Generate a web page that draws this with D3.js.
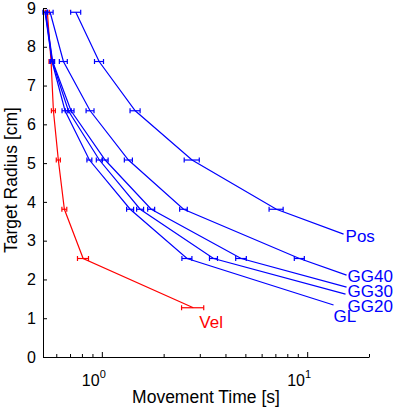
<!DOCTYPE html>
<html>
<head>
<meta charset="utf-8">
<script src="https://cdn.jsdelivr.net/npm/d3@7"></script>
<style>
  body { margin: 0; background: #fff; }
  svg text { font-family: "Liberation Sans", Arial, sans-serif; }
</style>
</head>
<body>
<div id="chart"></div>
<script>
var width = 397;
var height = 412;

// target radius levels [cm]
var radius = [8.89, 7.62, 6.35, 5.08, 3.81, 2.54, 1.27];

// movement times [s] (mean) and sd, one per radius level
var velMT = [0.543, 0.566, 0.581, 0.614, 0.657, 0.811, 2.79];
var velSD = [0.012, 0.013, 0.013, 0.014, 0.018, 0.05, 0.345];
var glMT = [0.529, 0.572, 0.662, 0.870, 1.374, 2.60];
var glSD = [0.012, 0.013, 0.022, 0.024, 0.054, 0.146];
var gg20MT = [0.531, 0.574, 0.687, 0.973, 1.537, 3.50];
var gg20SD = [0.012, 0.013, 0.023, 0.033, 0.06, 0.157];
var gg30MT = [0.533, 0.576, 0.708, 1.038, 1.740, 4.77];
var gg30SD = [0.012, 0.013, 0.024, 0.035, 0.068, 0.284];
var gg40MT = [0.560, 0.650, 0.877, 1.348, 2.50, 9.17];
var gg40SD = [0.019, 0.029, 0.039, 0.061, 0.107, 0.515];
var posMT = [0.747, 0.970, 1.454, 2.75, 7.08];
var posSD = [0.042, 0.049, 0.082, 0.232, 0.557];

// where each label's leader line ends (data units)
var labelNames = ["Pos", "GG40", "GG30", "GG20", "GL", "Vel"];
var labelMT = [15.04, 15.55, 15.55, 15.37, 13.44, 2.79];
var labelR = [3.17, 2.11, 1.80, 1.62, 1.34, 1.27];

var series = [
  {name: "Vel", mt: velMT, sd: velSD, color: "#ff0000"},
  {name: "GL", mt: glMT, sd: glSD, color: "#0000ff"},
  {name: "GG20", mt: gg20MT, sd: gg20SD, color: "#0000ff"},
  {name: "GG30", mt: gg30MT, sd: gg30SD, color: "#0000ff"},
  {name: "GG40", mt: gg40MT, sd: gg40SD, color: "#0000ff"},
  {name: "Pos", mt: posMT, sd: posSD, color: "#0000ff"}
];

// text offsets from leader end (px)
var labelOffset = {Pos: [2, 8], GG40: [1, 7], GG30: [1, 10], GG20: [2, 18], GL: [0, 17], Vel: [6, 20]};

const svg = d3.select("#chart")
  .append("svg")
    .attr("width", width)
    .attr("height", height);

var x = d3.scaleLog()
  .domain([0.517, 20])
  .range([43, 369]);
var y = d3.scaleLinear()
  .domain([0, 9])
  .range([357, 8]);

series.forEach(function (s, k) {
  var pts = s.mt.map(function (t, i) { return [t, radius[i]]; });
  var li = labelNames.indexOf(s.name);
  var linePts = pts.slice();
  if (s.name != "Vel") linePts.push([labelMT[li], labelR[li]]);

  var g = svg.append("g").attr("class", "series");
  g.append("path")
    .datum(linePts)
    .attr("fill", "none")
    .attr("stroke", s.color)
    .attr("stroke-width", 1.2)
    .attr("d", d3.line().x(function (d) { return x(d[0]); }).y(function (d) { return y(d[1]); }));

  // horizontal error bars
  var eb = g.selectAll(".eb")
    .data(s.mt.map(function (t, i) { return {t: t, sd: s.sd[i], r: radius[i]}; }))
    .enter().append("g");
  eb.append("line")
    .attr("x1", function (d) { return x(d.t - d.sd); })
    .attr("x2", function (d) { return x(d.t + d.sd); })
    .attr("y1", function (d) { return y(d.r); })
    .attr("y2", function (d) { return y(d.r); })
    .attr("stroke", s.color).attr("stroke-width", 1.2);
  [-1, 1].forEach(function (sgn) {
    eb.append("line")
      .attr("x1", function (d) { return x(d.t + sgn * d.sd); })
      .attr("x2", function (d) { return x(d.t + sgn * d.sd); })
      .attr("y1", function (d) { return y(d.r) - 2.5; })
      .attr("y2", function (d) { return y(d.r) + 2.5; })
      .attr("stroke", s.color).attr("stroke-width", 1.2);
  });

  var off = labelOffset[s.name];
  svg.append("text")
    .attr("x", x(labelMT[li]) + off[0])
    .attr("y", y(labelR[li]) + off[1])
    .attr("fill", s.color)
    .style("font-size", "17px")
    .text(s.name);
});

// axes
var yAxis = svg.append("g")
  .attr("transform", "translate(43,0)")
  .call(d3.axisLeft(y).ticks(9).tickSize(-4).tickSizeOuter(0).tickPadding(7));
yAxis.selectAll("text").style("font-size", "16px").attr("fill", "#000");

var xAxis = svg.append("g")
  .attr("transform", "translate(0,357)")
  .call(d3.axisBottom(x).tickValues(x.ticks()).tickSize(-3).tickSizeOuter(0).tickFormat(""));
xAxis.selectAll(".tick line")
  .filter(function (d) { return d == 1 || d == 10; })
  .attr("y2", -5);
svg.selectAll(".domain").attr("stroke", "#000");
svg.selectAll(".tick line").attr("stroke", "#000");

[1, 10].forEach(function (v, i) {
  var t = svg.append("text")
    .attr("x", x(v) - 8)
    .attr("y", 386)
    .attr("text-anchor", "middle")
    .style("font-size", "16px");
  t.append("tspan").text("10");
  t.append("tspan").attr("dy", -8).style("font-size", "11px").text(i);
});

svg.append("text")
  .attr("x", 206)
  .attr("y", 403)
  .attr("text-anchor", "middle")
  .style("font-size", "17.5px")
  .text("Movement Time [s]");

svg.append("text")
  .attr("transform", "translate(17,180) rotate(-90)")
  .attr("text-anchor", "middle")
  .style("font-size", "17.5px")
  .text("Target Radius [cm]");
</script>
</body>
</html>
